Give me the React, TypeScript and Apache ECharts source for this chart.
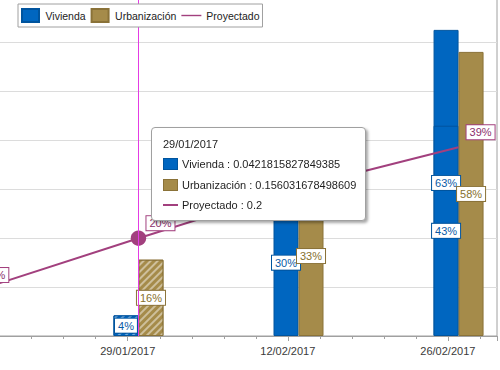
import React, { useEffect, useRef } from 'react';
import * as echarts from 'echarts';

// ---- data ----
const viviendaDates = ['29/01/2017', '12/02/2017', '26/02/2017', '26/02/2017'];
const viviendaValues = [0.0421815827849385, 0.3, 0.626, 0.43];
const urbanizacionDates = ['29/01/2017', '12/02/2017', '26/02/2017'];
const urbanizacionValues = [0.156031678498609, 0.327, 0.581];
const proyectadoDates = ['15/01/2017', '29/01/2017', '12/02/2017', '26/02/2017'];
const proyectadoValues = [0.094, 0.2, 0.303, 0.386];
const selectedDate = '29/01/2017';
const axisStartDate = '15/01/2017';
const axisEndDays = 46.3;
const tickDays = 14;
const yMax = 0.7;
const yStep = 0.1;

const DAY = 86400000;
const FONT = "'Liberation Sans', Arial, sans-serif";
const C = {
  viv: '#0066c0',
  vivBorder: '#00549e',
  vivText: '#0a5aa6',
  urb: '#a58b4a',
  urbBorder: '#8a7238',
  urbText: '#86702e',
  proy: '#a2407e',
  proyText: '#8c2f6c',
  cross: '#e43ce4',
  grid: '#dcdcdc',
  axis: '#a0a0a0',
  text: '#3a3a3a',
};

function parseDate(s: string): number {
  const [d, m, y] = s.split('/').map(Number);
  return Date.UTC(y, m - 1, d);
}
const base = parseDate(axisStartDate);
const pointDayOffset = 22.5 / 24;
function toX(s: string): number {
  return (parseDate(s) - base) / DAY + pointDayOffset;
}
function pad(n: number) {
  return n < 10 ? '0' + n : '' + n;
}
function fmtDate(dayIdx: number): string {
  const t = new Date(base + Math.floor(dayIdx + 1e-6) * DAY + 1000);
  return pad(t.getUTCDate()) + '/' + pad(t.getUTCMonth() + 1) + '/' + t.getUTCFullYear();
}
const pct = (p: any) => Math.round(p.value[1] * 100) + '%';

const decal = {
  symbol: 'rect',
  symbolSize: 1,
  dashArrayX: [1, 0],
  dashArrayY: [1.5, 2.5],
  rotation: -Math.PI / 4,
  color: 'rgba(255,255,255,0.45)',
};

function barLabel(color: string, text: string) {
  return {
    show: true,
    position: 'inside',
    formatter: pct,
    color: text,
    fontSize: 11,
    fontFamily: FONT,
    backgroundColor: '#fff',
    borderColor: color,
    borderWidth: 1,
    padding: [2, 3, 1, 3],
  };
}

export default function App() {
  const ref = useRef<HTMLDivElement>(null);
  useEffect(() => {
    if (!ref.current) return;
    const chart = echarts.init(ref.current, undefined, { renderer: 'svg' });
    const option: any = {
      animation: false,
      textStyle: { fontFamily: FONT, fontSize: 11 },
      grid: {
        left: -32.3,
        right: 3,
        top: -6.3,
        bottom: 34,
        show: true,
        borderColor: C.axis,
        borderWidth: 1,
        outerBoundsMode: 'none',
      },
      legend: {
        left: 18,
        top: 4,
        z: 100,
        padding: [4, 3, 4, 3],
        itemWidth: 20,
        itemHeight: 13,
        itemGap: 5,
        borderColor: C.axis,
        borderWidth: 1,
        backgroundColor: '#fff',
        selectedMode: false,
        textStyle: { fontSize: 10.5, fontFamily: FONT, color: '#222' },
        data: [
          { name: 'Vivienda', icon: 'path://M0,0h17v13h-17z' },
          { name: 'Urbanización', icon: 'path://M0,0h17v13h-17z' },
          { name: 'Proyectado', icon: 'path://M0,0h20v1.4h-20z' },
        ],
      },
      tooltip: {
        trigger: 'axis',
        triggerOn: 'none',
        alwaysShowContent: true,
        transitionDuration: 0,
        showDelay: 0,
        position: [151, 127],
        padding: 0,
        backgroundColor: '#fff',
        borderColor: C.axis,
        borderWidth: 1,
        borderRadius: 4,
        extraCssText: 'box-shadow: 2px 2px 3px rgba(0,0,0,0.35);',
        axisPointer: {
          type: 'line',
          lineStyle: { color: C.cross, width: 1, type: 'solid' },
          label: { show: false },
        },
        formatter: (params: any) => {
          const list = Array.isArray(params) ? params : [params];
          const title = fmtDate(list[0].value[0]);
          const line = (html: string) =>
            `<div style="height:20.3px;line-height:20.3px;white-space:nowrap;">${html}</div>`;
          let out = line(title);
          list.forEach((p: any) => {
            let icon = '';
            if (p.seriesName === 'Vivienda') {
              icon = `<span style="display:inline-block;width:13px;height:10px;background:${C.viv};border:1px solid ${C.vivBorder};vertical-align:middle;margin:-2px 4px 0 0;"></span>`;
            } else if (p.seriesName === 'Urbanización') {
              icon = `<span style="display:inline-block;width:13px;height:10px;background:${C.urb};border:1px solid ${C.urbBorder};vertical-align:middle;margin:-2px 4px 0 0;"></span>`;
            } else {
              icon = `<span style="display:inline-block;width:15px;height:2px;background:${C.proy};vertical-align:middle;margin:-2px 4px 0 0;"></span>`;
            }
            out += line(icon + `${p.seriesName} : ${p.value[1]}`);
          });
          return `<div style="width:191px;padding:6px 11px 5px 11px;font-family:${FONT};font-size:11px;color:#1e1e1e;">${out}</div>`;
        },
      },
      xAxis: {
        type: 'value',
        min: 0,
        max: axisEndDays,
        interval: tickDays,
        axisLine: { show: true, lineStyle: { color: C.axis, width: 1 } },
        axisTick: { show: true, length: 5, lineStyle: { color: C.axis } },
        minorTick: { show: true, splitNumber: 5, length: 3, lineStyle: { color: C.axis } },
        splitLine: { show: false },
        minorSplitLine: { show: false },
        axisLabel: {
          formatter: (v: number) => fmtDate(v),
          fontSize: 11,
          fontFamily: FONT,
          color: C.text,
          margin: 9,
          showMinLabel: false,
          showMaxLabel: false,
        },
        axisPointer: { snap: false },
      },
      yAxis: {
        type: 'value',
        min: 0,
        max: yMax,
        interval: yStep,
        axisLabel: { show: false },
        axisLine: { show: false },
        axisTick: { show: false },
        splitLine: { show: true, lineStyle: { color: C.grid, width: 1 } },
      },
      series: [
        {
          name: 'Vivienda',
          type: 'bar',
          barWidth: 25,
          barGap: '0%',
          itemStyle: { color: C.viv, borderColor: C.vivBorder, borderWidth: 1 },
          label: barLabel(C.vivBorder, C.vivText),
          emphasis: { disabled: true },
          data: viviendaDates.map((d, i) => ({
            value: [toX(d), viviendaValues[i]],
            itemStyle: d === selectedDate ? { decal } : undefined,
          })),
        },
        {
          name: 'Urbanización',
          type: 'bar',
          barWidth: 25,
          barGap: '0%',
          itemStyle: { color: C.urb, borderColor: C.urbBorder, borderWidth: 1 },
          label: barLabel(C.urbBorder, C.urbText),
          emphasis: { disabled: true },
          data: urbanizacionDates.map((d, i) => ({
            value: [toX(d), urbanizacionValues[i]],
            itemStyle: d === selectedDate ? { decal } : undefined,
          })),
        },
        {
          name: 'Proyectado',
          type: 'line',
          z: 5,
          symbol: 'circle',
          showSymbol: true,
          lineStyle: { color: C.proy, width: 2 },
          itemStyle: { color: C.proy },
          emphasis: { disabled: true },
          label: {
            show: true,
            position: 'inside',
            align: 'left',
            verticalAlign: 'middle',
            offset: [8, -15],
            formatter: pct,
            color: C.proyText,
            fontSize: 11,
            fontFamily: FONT,
            backgroundColor: '#fff',
            borderColor: C.proy,
            borderWidth: 1,
            padding: [2, 3, 1, 3],
          },
          data: proyectadoDates.map((d, i) => ({
            value: [toX(d), proyectadoValues[i]],
            symbolSize: d === selectedDate ? 14 : 0,
          })),
        },
      ],
    };
    chart.setOption(option);
    chart.dispatchAction({
      type: 'showTip',
      seriesIndex: 2,
      dataIndex: proyectadoDates.indexOf(selectedDate),
    });
    return () => chart.dispose();
  }, []);
  return (
    <div
      ref={ref}
      style={{ position: 'absolute', left: 0, top: 0, width: 500, height: 370 }}
    />
  );
}
